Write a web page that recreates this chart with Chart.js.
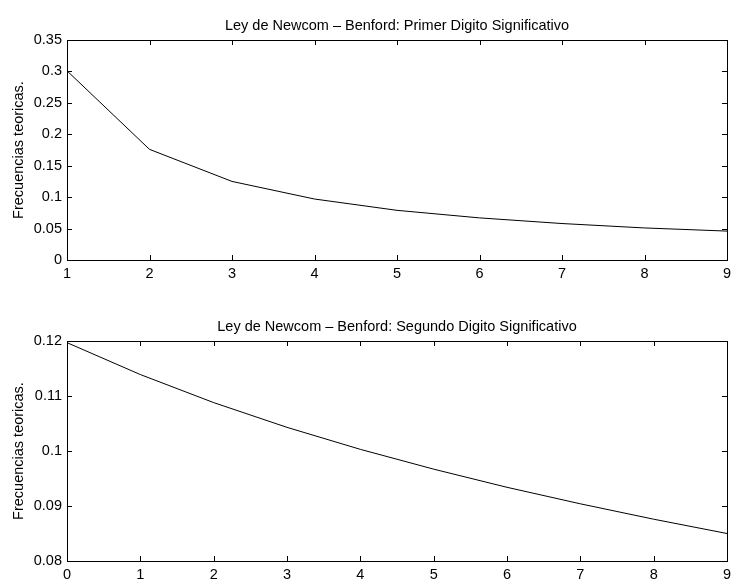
<!DOCTYPE html>
<html>
<head>
<meta charset="utf-8">
<script src="https://cdn.jsdelivr.net/npm/chart.js@4"></script>
<style>
  html, body { margin: 0; padding: 0; background: #fff; }
  body { width: 732px; height: 579px; position: relative; overflow: hidden; }
  canvas { position: absolute; left: 0; }
  #top { top: 0; }
  #bottom { top: 290px; }
</style>
</head>
<body>
<canvas id="top" width="732" height="290"></canvas>
<canvas id="bottom" width="732" height="289"></canvas>
<script>
// primer digito significativo
const firstDigits = [1, 2, 3, 4, 5, 6, 7, 8, 9];
const firstFreq = [0.301, 0.176, 0.125, 0.097, 0.079, 0.067, 0.058, 0.051, 0.046];

// segundo digito significativo
const secondDigits = [0, 1, 2, 3, 4, 5, 6, 7, 8, 9];
const secondFreq = [0.1197, 0.1139, 0.1088, 0.1043, 0.1003, 0.0967, 0.0934, 0.0904, 0.0876, 0.0850];

const topTitle = 'Ley de Newcom \u2013 Benford: Primer Digito Significativo';
const bottomTitle = 'Ley de Newcom \u2013 Benford: Segundo Digito Significativo';
const yLabel = 'Frecuencias teoricas.';

const FONT = '"Liberation Sans", Arial, Helvetica, sans-serif';
const SIZE = 14.5;

// caja estilo matlab con marcas hacia dentro
const boxPlugin = {
    id: 'matlabBox',
    afterDraw(chart, args, opts) {
        const { ctx, chartArea: a, scales: { x, y } } = chart;
        const len = 5;
        ctx.save();
        ctx.strokeStyle = '#000';
        ctx.lineWidth = 1;
        ctx.beginPath();
        x.ticks.forEach(t => {
            const px = Math.round(x.getPixelForValue(t.value)) + 0.5;
            ctx.moveTo(px, a.bottom);
            ctx.lineTo(px, a.bottom - len);
            ctx.moveTo(px, a.top);
            ctx.lineTo(px, a.top + len);
        });
        y.ticks.forEach(t => {
            const py = Math.round(y.getPixelForValue(t.value)) + 0.5;
            ctx.moveTo(a.left, py);
            ctx.lineTo(a.left + len, py);
            ctx.moveTo(a.right, py);
            ctx.lineTo(a.right - len, py);
        });
        ctx.stroke();
        ctx.strokeRect(Math.round(a.left) + 0.5, Math.round(a.top) + 0.5,
            Math.round(a.right - a.left), Math.round(a.bottom - a.top));

        ctx.fillStyle = '#000';
        ctx.font = SIZE + 'px ' + FONT;
        ctx.textAlign = 'center';
        ctx.textBaseline = 'alphabetic';
        ctx.fillText(opts.text, (a.left + a.right) / 2, a.top - 10);
        ctx.restore();
    }
};

function fmt(v) {
    return String(+v.toFixed(4));
}

function makeChart(id, xs, ys, xMin, xMax, yMin, yMax, yStep, title, padTop, xHeight) {
    const ctx = document.getElementById(id).getContext('2d');
    return new Chart(ctx, {
        type: 'line',
        data: {
            datasets: [{
                data: xs.map((v, i) => ({ x: v, y: ys[i] })),
                borderColor: '#000',
                borderWidth: 1,
                pointRadius: 0,
                tension: 0,
                fill: false
            }]
        },
        options: {
            responsive: false,
            animation: false,
            devicePixelRatio: 1,
            layout: { padding: { top: padTop, right: 5, left: 0, bottom: 0 } },
            plugins: {
                legend: { display: false },
                tooltip: { enabled: false },
                matlabBox: { text: title }
            },
            scales: {
                x: {
                    type: 'linear',
                    min: xMin,
                    max: xMax,
                    grid: { display: false, drawTicks: false },
                    border: { display: false },
                    ticks: {
                        stepSize: 1,
                        padding: 5,
                        maxRotation: 0,
                        autoSkip: false,
                        color: '#000',
                        font: { size: SIZE, family: FONT },
                        callback: v => fmt(v)
                    },
                    afterFit: s => {
                        s.height = xHeight;
                        s.paddingLeft = 0;
                        s.paddingRight = 0;
                    }
                },
                y: {
                    min: yMin,
                    max: yMax,
                    grid: { display: false, drawTicks: false },
                    border: { display: false },
                    ticks: {
                        stepSize: yStep,
                        padding: 5,
                        color: '#000',
                        font: { size: SIZE, family: FONT },
                        callback: v => fmt(v)
                    },
                    title: {
                        display: true,
                        text: yLabel,
                        color: '#000',
                        font: { size: SIZE, family: FONT },
                        padding: { top: 10, bottom: 0 }
                    },
                    afterFit: s => {
                        s.width = 67;
                        s.paddingTop = 0;
                        s.paddingBottom = 0;
                    }
                }
            }
        },
        plugins: [boxPlugin]
    });
}

makeChart('top', firstDigits, firstFreq, 1, 9, 0, 0.35, 0.05, topTitle, 40, 30);
makeChart('bottom', secondDigits, secondFreq, 0, 9, 0.08, 0.12, 0.01, bottomTitle, 51, 18);
</script>
</body>
</html>
